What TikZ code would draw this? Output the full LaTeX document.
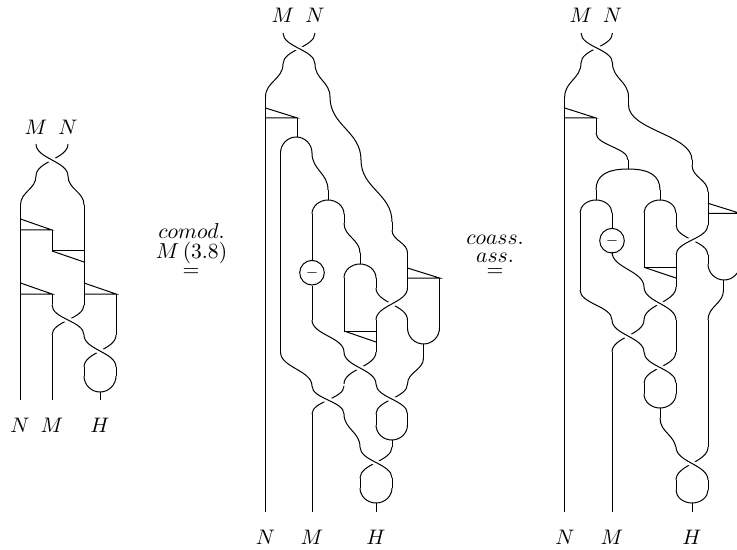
\documentclass[tikz,border=0pt]{standalone}
\tikzset{
  strand/.style={line width=0.5pt},
  halo/.style={white,line width=3pt},
  lbl/.style={inner sep=0pt,scale=1.05},
  bigl/.style={inner sep=0pt,scale=1.08},
  antip/.style={circle,draw,line width=0.5pt,minimum size=12.3pt,inner sep=0pt}
}
\newcommand\Sc[4]{\draw[strand] (#1,#2) .. controls (#1,{#2+.46*(#4-#2)}) and (#3,{#4-.46*(#4-#2)}) .. (#3,#4);}
\newcommand\ScH[4]{\draw[halo] (#1,#2) .. controls (#1,{#2+.46*(#4-#2)}) and (#3,{#4-.46*(#4-#2)}) .. (#3,#4);}
% crossing, strand from top left passes over
\newcommand\CrL[4]{\Sc{#2}{#3}{#1}{#4}\ScH{#1}{#3}{#2}{#4}\Sc{#1}{#3}{#2}{#4}}
% crossing, strand from top right passes over
\newcommand\CrR[4]{\Sc{#1}{#3}{#2}{#4}\ScH{#2}{#3}{#1}{#4}\Sc{#2}{#3}{#1}{#4}}
% arch or cup: xl xr yside yapex
\newcommand\Arch[4]{\draw[strand] (#1,#3) .. controls (#1,{#3+.55*(#4-#3)}) and ({(#1+#2)/2-.275*(#2-#1)},#4) .. ({(#1+#2)/2},#4)
  .. controls ({(#1+#2)/2+.275*(#2-#1)},#4) and (#2,{#3+.55*(#4-#3)}) .. (#2,#3);}
\newcommand\Ln[4]{\draw[strand] (#1,#2) -- (#3,#4);}
% triangle: apex left top (x1,y1), corner right (x2,y2), back to (x1,y2)
\newcommand\TriA[4]{\draw[strand,line join=miter] (#1,#2) -- (#3,#4) -- (#1,#4);}
\begin{document}
\begin{tikzpicture}[x=0.5pt,y=-0.5pt]
\clip (0,0) rectangle (737,550);
\fill[white] (0,0) rectangle (737,550);
%%%%% LEFT
\CrL{36}{68}{144}{176}
\Sc{36}{176}{20.5}{205}
\Sc{68}{176}{84}{205}
\Ln{20.5}{205}{20.5}{400}
\Ln{84}{205}{84}{305}
\TriA{20.5}{219}{52}{230}
\Ln{52}{230}{52}{251}
\Ln{52}{251}{84}{251}
\Ln{52}{251}{84}{262}
\TriA{20.5}{283}{52}{294}
\Ln{52}{294}{52}{305}
\TriA{84}{283}{116}{294}
\Ln{116}{294}{116}{335}
\CrL{52}{84}{305}{335}
\Ln{52}{335}{52}{400}
\CrL{84}{116}{335}{367}
\Ln{84}{367}{84}{376}
\Ln{116}{367}{116}{376}
\Arch{84}{116}{376}{392}
\Ln{100}{392}{100}{400}
\node[lbl] (lm) at (36,127) {$M$};
\node[lbl] (ln) at (68,127) {$N$};
\node[lbl] (lbn) at (20,425) {$N$};
\node[lbl] (lbm) at (52,425) {$M$};
\node[lbl] (lbh) at (100,425) {$H$};
%%%%% LABEL 1
\node[bigl] (c1) at (191.5,231) {$comod.$};
\node[bigl] (c2) at (191.5,253) {$M\,(3.8)$};
\node[bigl] (c3) at (191,273) {$=$};
%%%%% MIDDLE
\CrL{283}{315}{33}{64}
\Sc{283}{64}{265.5}{97}
\Sc{315}{64}{330}{97}
\Ln{265.5}{97}{265.5}{512}
\Sc{330}{97}{361}{160}
\Sc{361}{160}{392}{222}
\Ln{392}{222}{392}{230}
\Sc{392}{230}{407.5}{253}
\Ln{407.5}{253}{407.5}{288}
\TriA{407.5}{268}{439.5}{278}
\Ln{439.5}{278}{439.5}{328}
\Arch{407.5}{439.5}{328}{344}
\CrR{376}{407.5}{288}{320}
\Ln{407.5}{320}{407.5}{328}
\Sc{423.5}{358}{407.5}{384}
\Ln{423.5}{344}{423.5}{358}
\TriA{265.5}{108}{297.5}{118}
\Ln{297.5}{118}{297.5}{137}
\Arch{280.5}{312}{153}{137}
\Ln{280.5}{153}{280.5}{352}
\Sc{280.5}{352}{312}{386}
\Sc{312}{153}{328}{190}
\Ln{328}{190}{328}{200}
\Arch{312}{344}{214}{200}
\Ln{344}{214}{344}{223}
\Sc{344}{223}{360}{253}
\Ln{360}{253}{360}{264}
\node[antip] (mc) at (312,272.7) {$\scriptstyle -$};
\draw[strand] (312,214) -- (mc) -- (312,320);
\Sc{312}{320}{344}{352}
\Arch{344}{376}{278}{264}
\Ln{376}{278}{376}{288}
\Ln{344}{278}{344}{331}
\Ln{344}{331}{376}{331}
\Ln{344}{331}{376}{342}
\Ln{376}{320}{376}{352}
\CrL{344}{376}{352}{384}
\CrL{312}{344}{386}{414}
\Ln{312}{414}{312}{512}
\CrL{376}{407.5}{384}{414}
\Ln{376}{414}{376}{425}
\Ln{407.5}{414}{407.5}{425}
\Arch{376}{407.5}{425}{440}
\Ln{392}{440}{392}{447}
\Sc{344}{414}{360}{447}
\CrL{360}{392}{447}{478}
\Ln{360}{478}{360}{488}
\Ln{392}{478}{392}{488}
\Arch{360}{392}{488}{503}
\Ln{376}{503}{376}{512}
\node[lbl] (mm) at (283,15) {$M$};
\node[lbl] (mn) at (315,15) {$N$};
\node[lbl] (mbn) at (265.5,537) {$N$};
\node[lbl] (mbm) at (312,537) {$M$};
\node[lbl] (mbh) at (376,537) {$H$};
%%%%% LABEL 2
\node[bigl] (d1) at (495,240) {$coass.$};
\node[bigl] (d2) at (495,258) {$ass.$};
\node[bigl] (d3) at (495,273) {$=$};
%%%%% RIGHT
\CrL{581}{612.5}{33}{63}
\Sc{581}{63}{564.7}{97}
\Sc{612.5}{63}{628.5}{97}
\Ln{564.7}{97}{564.7}{512}
\Ln{628.5}{97}{628.5}{105}
\Sc{628.5}{105}{692}{160}
\Ln{692}{160}{692}{165}
\Sc{692}{165}{708}{192}
\Ln{708}{192}{708}{225}
\TriA{708}{203.3}{740}{213.3}
\CrR{676}{708}{225}{255}
\Ln{708}{255}{708}{264}
\Arch{708}{740}{264}{280}
\Ln{723.5}{280}{723.5}{290}
\Sc{723.5}{290}{708}{320}
\Ln{708}{320}{708}{447}
\TriA{564.7}{108}{596}{118}
\Ln{596}{118}{596}{133}
\Sc{596}{133}{628}{160}
\Ln{628}{160}{628}{169}
\draw[strand] (596,190) .. controls (596,176) and (606,169) .. (628,169) .. controls (650,169) and (660,176) .. (660,190);
\Ln{596}{190}{596}{200}
\Ln{660}{190}{660}{200}
\Arch{580}{612}{213}{200}
\Arch{644}{676}{213}{200}
\Ln{580}{213}{580}{290}
\Sc{580}{290}{612}{320}
\node[antip] (rc) at (612,240.7) {$\scriptstyle -$};
\draw[strand] (612,213) -- (rc) -- (612,252);
\Sc{612}{252}{644}{287}
\Ln{644}{213}{644}{267.3}
\Ln{644}{267.3}{676}{267.3}
\Ln{644}{267.3}{676}{278}
\Ln{676}{213}{676}{225}
\Ln{676}{255}{676}{287}
\CrL{644}{676}{287}{320}
\CrL{612}{644}{320}{352}
\Ln{612}{352}{612}{512}
\Ln{676}{320}{676}{352}
\CrL{644}{676}{352}{383}
\Ln{644}{383}{644}{394}
\Ln{676}{383}{676}{394}
\Arch{644}{676}{394}{408}
\Ln{660}{408}{660}{418}
\Sc{660}{418}{676}{450}
\CrL{676}{708}{447}{480}
\Ln{676}{480}{676}{490}
\Ln{708}{480}{708}{490}
\Arch{676}{708}{490}{503}
\Ln{692}{503}{692}{512}
\node[lbl] (rm) at (581,15) {$M$};
\node[lbl] (rn) at (612.5,15) {$N$};
\node[lbl] (rbn) at (565,537) {$N$};
\node[lbl] (rbm) at (612,537) {$M$};
\node[lbl] (rbh) at (692,537) {$H$};
\end{tikzpicture}
\end{document}
